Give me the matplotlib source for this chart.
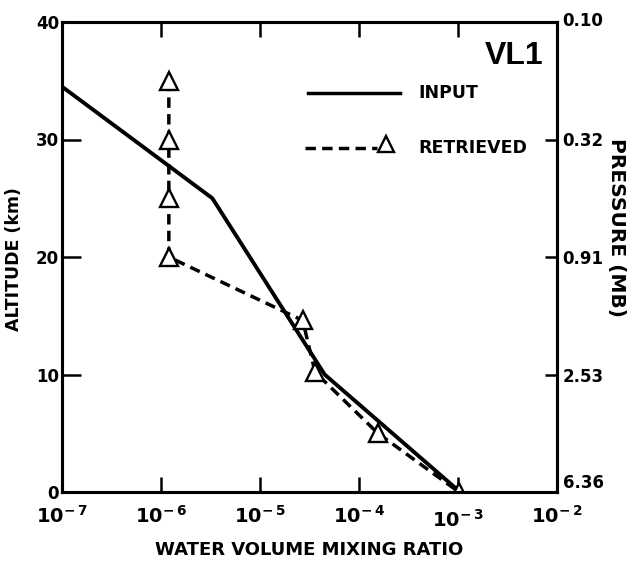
import matplotlib
matplotlib.use("Agg")
import matplotlib.pyplot as plt
from matplotlib.transforms import ScaledTranslation

# ---- data ----
input_x = [1e-7, 3.3e-6, 4.5e-5, 1.05e-3]
input_y = [34.5, 25.0, 10.0, 0.0]

ret_x = [1.2e-6, 1.2e-6, 1.2e-6, 1.2e-6, 2.7e-5, 3.6e-5, 1.55e-4, 1.02e-3]
ret_y = [35.0, 30.0, 25.0, 20.0, 14.6, 10.2, 5.0, 0.0]

x_ticks = [1e-7, 1e-6, 1e-5, 1e-4, 1e-3, 1e-2]
x_tick_labels = [r'$\mathbf{10^{-\,7}}$', r'$\mathbf{10^{-\,6}}$', r'$\mathbf{10^{-\,5}}$',
                 r'$\mathbf{10^{-\,4}}$', r'$\mathbf{10^{-\,3}}$', r'$\mathbf{10^{-\,2}}$']
alt_ticks = [0, 10, 20, 30, 40]
alt_labels = ['0', '10', '20', '30', '40']
pres_labels = ['6.36', '2.53', '0.91', '0.32', '0.10']

plt.rcParams['font.family'] = ['DejaVu Sans']
plt.rcParams['font.weight'] = 'bold'
plt.rcParams['mathtext.fontset'] = 'dejavusans'

fig = plt.figure(figsize=(6.28, 5.61), dpi=100)
ax = fig.add_axes([62/628, 1-492/561, (557-62)/628, (492-22)/561])

ax.plot(input_x, input_y, color='black', lw=2.8, solid_joinstyle='miter', zorder=3)
ax.plot(ret_x, ret_y, color='black', lw=2.5, dashes=(3, 1.8), marker='^',
        markersize=12.5, markerfacecolor='white', markeredgecolor='black',
        markeredgewidth=1.7, zorder=4)

ax.set_xscale('log')
ax.set_xlim(1e-7, 1e-2)
ax.set_ylim(0, 40)
ax.minorticks_off()
ax.set_xticks(x_ticks)
ax.set_xticklabels(x_tick_labels, fontsize=14)
ax.set_yticks(alt_ticks)
ax.set_yticklabels(alt_labels, fontsize=12, fontweight='bold')

for s in ax.spines.values():
    s.set_linewidth(2.2)

ax.tick_params(axis='x', which='major', direction='in', length=11, width=1.8,
               top=True, bottom=True, pad=9)
ax.tick_params(axis='y', which='major', direction='in', length=14, width=1.8,
               left=True, right=False, pad=2)
yt = ax.yaxis.get_major_ticks()
yt[0].tick1line.set_visible(False)
yt[-1].tick1line.set_visible(False)
xt = ax.xaxis.get_major_ticks()
for t in (xt[0], xt[-1]):
    t.tick1line.set_visible(False)
    t.tick2line.set_visible(False)
# staggered 10^-3 label as in the original
lab3 = xt[4].label1
lab3.set_transform(lab3.get_transform() + ScaledTranslation(0, -3/72, fig.dpi_scale_trans))

ax2 = ax.twinx()
ax2.set_ylim(0, 40)
ax2.set_yticks(alt_ticks)
ax2.set_yticklabels(pres_labels, fontsize=12, fontweight='bold')
ax2.tick_params(axis='y', direction='in', length=9, width=1.8, pad=4)
yt2 = ax2.yaxis.get_major_ticks()
yt2[0].tick2line.set_visible(False)
yt2[-1].tick2line.set_visible(False)
yt2[0].label2.set_verticalalignment('bottom')
yt2[-1].label2.set_transform(yt2[-1].label2.get_transform()
                             + ScaledTranslation(0, 2/72, fig.dpi_scale_trans))
for s in ax2.spines.values():
    s.set_linewidth(2.2)

ax.set_xlabel('WATER VOLUME MIXING RATIO', fontsize=13, fontweight='bold')
ax.xaxis.set_label_coords(0.50, -0.105)
ax.set_ylabel('ALTITUDE (km)', fontsize=12.5, fontweight='bold')
ax.yaxis.set_label_coords(-0.079, 0.495)
ax2.set_ylabel('PRESSURE (MB)', fontsize=14.5, fontweight='bold', rotation=-90)
ax2.yaxis.set_label_coords(1.14, 0.562)

# legend (manual)
ax.plot([0.497, 0.683], [0.849, 0.849], transform=ax.transAxes, color='black', lw=2.5)
ax.text(0.719, 0.849, 'INPUT', transform=ax.transAxes, fontsize=12.5, fontweight='bold',
        va='center', ha='left')
ax.plot([0.491, 0.636], [0.732, 0.732], transform=ax.transAxes, color='black', lw=2.5,
        dashes=(3, 1.8))
ax.plot([0.655], [0.740], transform=ax.transAxes, marker='^', markersize=11,
        markerfacecolor='white', markeredgecolor='black', markeredgewidth=1.7)
ax.text(0.719, 0.732, 'RETRIEVED', transform=ax.transAxes, fontsize=12.5, fontweight='bold',
        va='center', ha='left')
ax.text(0.972, 0.928, 'VL1', transform=ax.transAxes, fontsize=23, fontweight='bold',
        family=['Liberation Sans'], va='center', ha='right')

fig.savefig('out.png', dpi=100)
